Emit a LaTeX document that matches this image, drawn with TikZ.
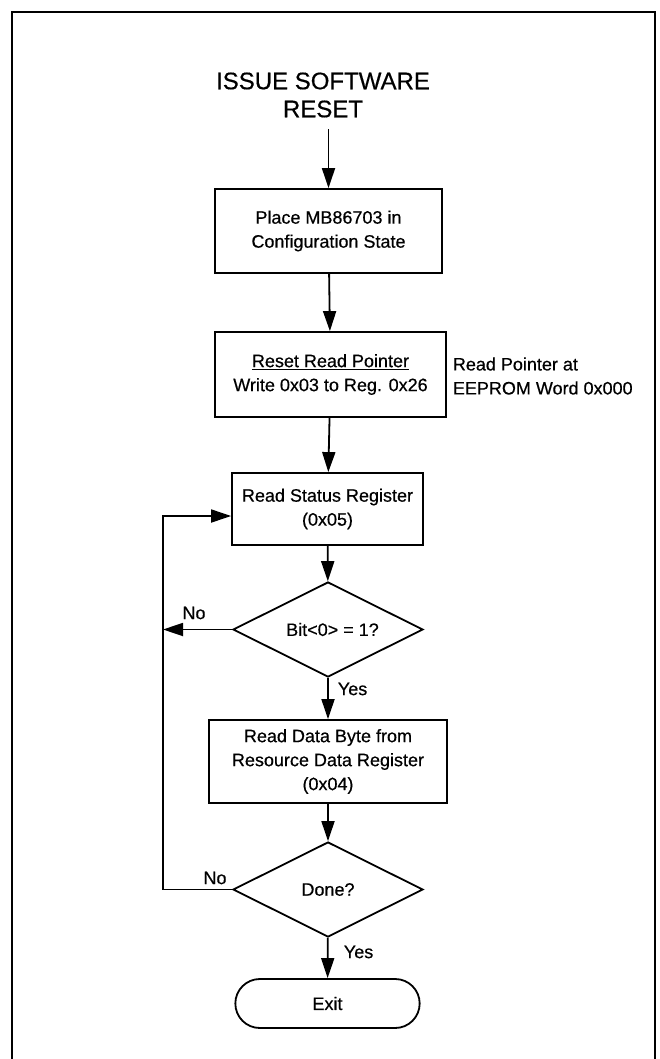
\documentclass[tikz,border=0pt]{standalone}
\usepackage{fontspec}
\setmainfont{Liberation Sans}[FakeBold=0.5]
\usetikzlibrary{arrows.meta,shapes.geometric,shapes.misc}

\begin{document}
\begin{tikzpicture}[x=1pt,y=-1pt,
  line width=1.8pt,
  arr/.style={-{Triangle[length=20pt,width=13pt]}},
  box/.style={draw,rectangle,align=center,inner sep=0pt,
    font=\fontsize{18}{24}\selectfont},
  test/.style={draw,diamond,aspect=2,inner sep=0pt,
    minimum width=190pt,minimum height=95pt,
    font=\fontsize{18}{24}\selectfont},
  lbl/.style={font=\fontsize{18}{24}\selectfont,inner sep=0pt}]
\useasboundingbox (0,0) rectangle (659,1059);
% frame, open at the bottom
\draw[line width=1.4pt] (12,1062) -- (12,12) -- (655,12) -- (655,1062);

% title and steps
\node[align=center,inner sep=11pt,font=\fontsize{24}{28}\selectfont]
  (start) at (323,95) {ISSUE SOFTWARE\\RESET};
\node[box,minimum width=227pt,minimum height=84pt] (place) at (328.5,231)
  {Place MB86703 in\\Configuration State};
\node[box,minimum width=231pt,minimum height=85pt] (reset) at (330.5,374.5)
  {\underline{Reset Read Pointer}\\Write 0x03 to Reg. 0x26};
\node[lbl,anchor=west,align=left] (note) at (452,376)
  {Read Pointer at\\EEPROM Word 0x000};
\node[box,minimum width=191pt,minimum height=72pt] (status) at (327.5,509)
  {Read Status Register\\(0x05)};
\node[test] (bit) at (328,629.5) {\hspace{9pt}Bit<0> = 1?};
\node[box,minimum width=238pt,minimum height=83pt] (data) at (328,761.5)
  {Read Data Byte from\\Resource Data Register\\(0x04)};
\node[test] (done) at (328,889.5) {Done?};
\node[draw,rounded rectangle,minimum width=191pt,minimum height=49pt,
  font=\fontsize{18}{24}\selectfont] (exit) at (327.5,1003.5) {Exit};

% loop corners
\coordinate (loopa) at (163,629.5);
\coordinate (loopb) at (163,889.5);

% connectors
\draw[arr] (place.north |- start.south) -- (place.north);
\draw[arr] (place) -- (reset);
\draw[arr] (reset) -- (status);
\draw[arr] (status) -- (bit);
\draw[arr] (bit) -- (data);
\draw[arr] (data) -- (done);
\draw[arr] (done) -- (exit);
\draw[arr] (bit.west) -- (loopa);
\draw[arr] (done.west) -- (loopb) |- ([yshift=-7pt]status.west);

% branch labels
\node[lbl] (no1) at (194,613) {No};
\node[lbl,anchor=west] (yes1) at (337,689) {Yes};
\node[lbl] (no2) at (215,878) {No};
\node[lbl,anchor=west] (yes2) at (343,952) {Yes};
\end{tikzpicture}
\end{document}
